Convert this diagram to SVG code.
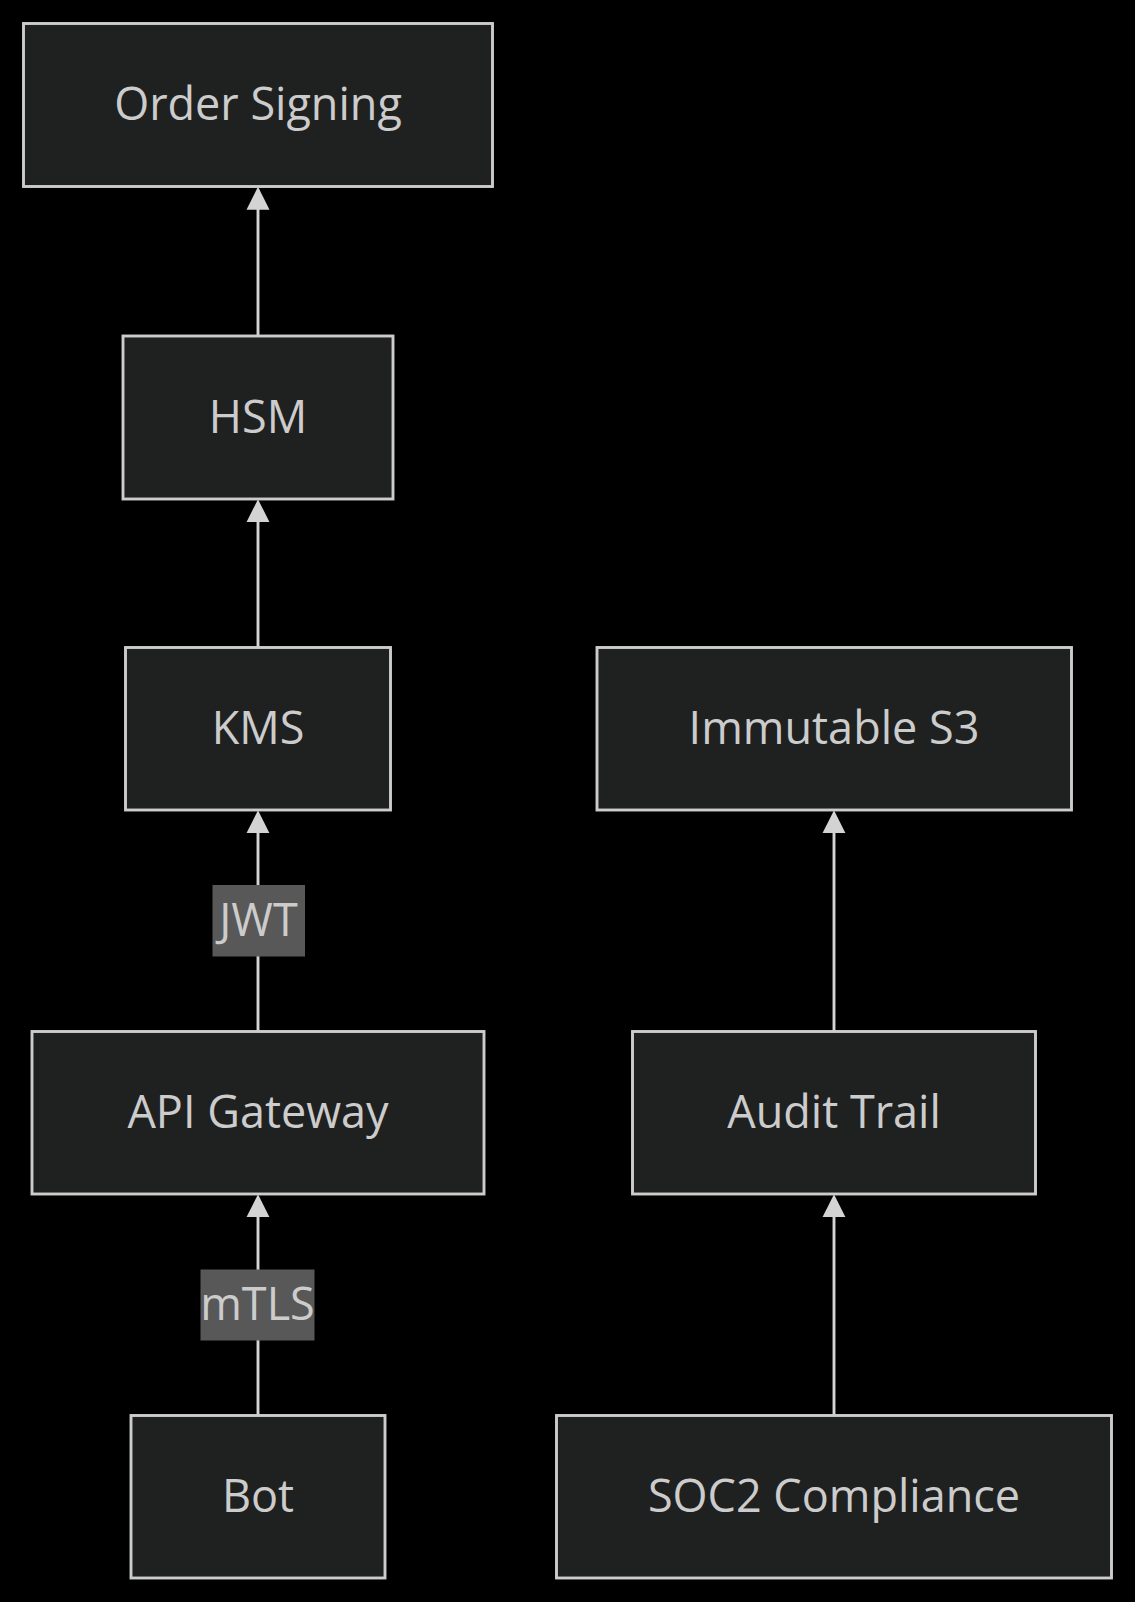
<svg xmlns="http://www.w3.org/2000/svg" width="1135" height="1602" viewBox="0 0 1135 1602">
<style>
.node rect{fill:#1f2020;stroke:#cccccc;stroke-width:2.9}
.node text,.lbl text{font-family:"Open Sans","Noto Sans","DejaVu Sans",sans-serif;font-size:45px;fill:#cccccc;text-anchor:middle}
.edge{stroke:#d3d3d3;stroke-width:2.9;fill:none;marker-end:url(#arrow)}
.lbl rect{fill:#585858}
</style>
<defs>
<marker id="arrow" viewBox="0 0 10 10" refX="7.9" refY="5" markerUnits="userSpaceOnUse" markerWidth="23" markerHeight="24" orient="auto">
<path d="M0,0 L10,5 L0,10 z" fill="#d3d3d3"/>
</marker>
</defs>
<rect width="1135" height="1602" fill="#000000"/>
<g id="connectors">
<path class="edge" d="M258,336 L258,191.5"/>
<path class="edge" d="M258,647.5 L258,504"/>
<path class="edge" d="M258,1031.5 L258,815"/>
<path class="edge" d="M258,1415.5 L258,1199"/>
<path class="edge" d="M834,1031.5 L834,815"/>
<path class="edge" d="M834,1415.5 L834,1199"/>
<g class="lbl" id="label-jwt"><rect x="212.5" y="885" width="92.5" height="71.5"/><text x="258.5" y="935.5">JWT</text></g>
<g class="lbl" id="label-mtls"><rect x="200.5" y="1269.5" width="114" height="71"/><text x="257.5" y="1320">mTLS</text></g>
</g>
<g class="node" id="node-order-signing"><rect x="23.5" y="23.5" width="469" height="163"/><text x="258" y="120">Order Signing</text></g>
<g class="node" id="node-hsm"><rect x="123" y="336" width="270" height="163"/><text x="258" y="432.5">HSM</text></g>
<g class="node" id="node-kms"><rect x="125.5" y="647.5" width="265" height="162.5"/><text x="258" y="744">KMS</text></g>
<g class="node" id="node-immutable-s3"><rect x="597" y="647.5" width="474.5" height="162.5"/><text x="834" y="744">Immutable S3</text></g>
<g class="node" id="node-api-gateway"><rect x="32" y="1031.5" width="452" height="162.5"/><text x="258" y="1128">API Gateway</text></g>
<g class="node" id="node-audit-trail"><rect x="632.5" y="1031.5" width="403" height="162.5"/><text x="834" y="1128">Audit Trail</text></g>
<g class="node" id="node-bot"><rect x="131" y="1415.5" width="254" height="162.5"/><text x="258" y="1512">Bot</text></g>
<g class="node" id="node-soc2"><rect x="556.5" y="1415.5" width="555" height="162.5"/><text x="834" y="1512">SOC2 Compliance</text></g>
</svg>
